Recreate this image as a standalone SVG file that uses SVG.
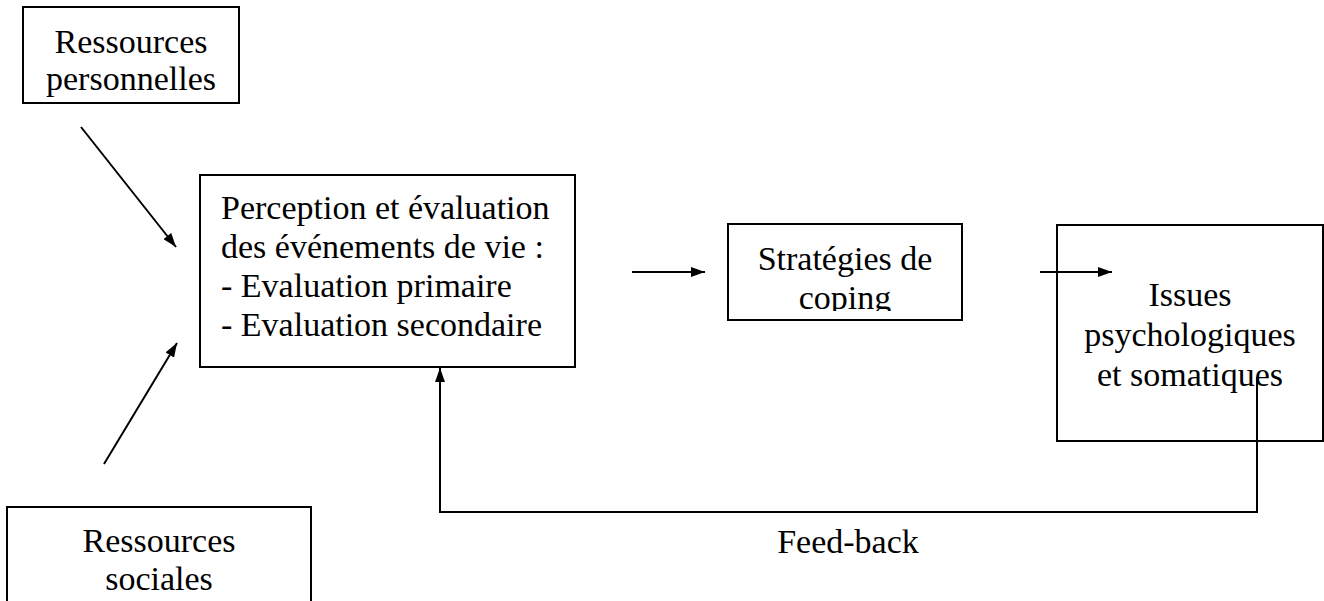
<svg xmlns="http://www.w3.org/2000/svg" width="1324" height="601" viewBox="0 0 1324 601">
<style>
.box{fill:#fff;stroke:#000;stroke-width:2}
.t{font-family:"Liberation Serif","Times New Roman",serif;font-size:34px;fill:#000}
.c{text-anchor:middle}
.ln{fill:none;stroke:#000;stroke-width:2}
</style>
<defs>
<marker id="ah" viewBox="0 0 14 10" refX="14" refY="5" markerWidth="14" markerHeight="10" markerUnits="userSpaceOnUse" orient="auto">
<path d="M0,0 L14,5 L0,10 Z" fill="#000"/>
</marker>
<clipPath id="copclip"><rect x="728" y="224" width="234" height="87"/></clipPath>
</defs>
<rect width="1324" height="601" fill="#fff"/>
<g id="res-perso">
<rect class="box" x="23" y="7" width="216" height="96"/>
<text class="t c" x="131" y="53">Ressources</text>
<text class="t c" x="131" y="90">personnelles</text>
</g>
<g id="res-sociales">
<rect class="box" x="7" y="507" width="304" height="110"/>
<text class="t c" x="159" y="552">Ressources</text>
<text class="t c" x="159" y="590">sociales</text>
</g>
<g id="perception">
<rect class="box" x="200" y="175" width="375" height="192"/>
<text class="t" x="221" y="219">Perception et évaluation</text>
<text class="t" x="221" y="258">des événements de vie :</text>
<text class="t" x="221" y="297">- Evaluation primaire</text>
<text class="t" x="221" y="336">- Evaluation secondaire</text>
</g>
<g id="coping">
<rect class="box" x="728" y="224" width="234" height="96"/>
<g clip-path="url(#copclip)">
<text class="t c" x="845" y="270">Stratégies de</text>
<text class="t c" x="845" y="309">coping</text>
</g>
</g>
<g id="issues">
<rect class="box" x="1057" y="225" width="266" height="216"/>
<text class="t c" x="1190" y="306">Issues</text>
<text class="t c" x="1190" y="346">psychologiques</text>
<text class="t c" x="1190" y="386">et somatiques</text>
</g>
<g id="connectors">
<line class="ln" x1="81" y1="127" x2="176" y2="247" marker-end="url(#ah)"/>
<line class="ln" x1="104" y1="464" x2="177" y2="343" marker-end="url(#ah)"/>
<line class="ln" x1="632" y1="272" x2="705" y2="272" marker-end="url(#ah)"/>
<line class="ln" x1="1040" y1="272" x2="1112" y2="272" marker-end="url(#ah)"/>
<polyline class="ln" points="1257,377 1257,512 440,512 440,368" marker-end="url(#ah)"/>
<text class="t c" x="848" y="553">Feed-back</text>
</g>
</svg>
